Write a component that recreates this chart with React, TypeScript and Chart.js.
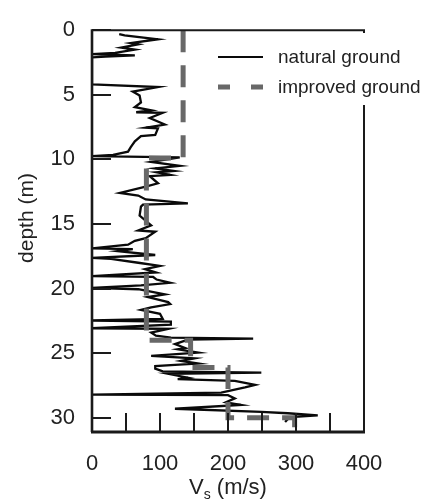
import React, { useEffect, useRef } from "react";
import { Chart, registerables } from "chart.js";

Chart.register(...registerables);

// natural ground shear-wave velocity profile
const naturalDepth = [
  0.3, 0.4, 0.7, 1.0, 1.1, 1.35, 1.5, 1.75, 1.85, 1.95, 2.05, 2.1, 4.2, 4.4, 4.75, 5.05, 5.6, 5.95,
  6.2, 6.35, 6.4, 6.8, 7.3, 7.55, 7.6, 8.1, 8.2, 8.6, 9.05, 9.4, 9.65, 9.75, 9.85, 10.2, 10.5, 10.7,
  10.9, 11.0, 11.2, 11.3, 11.85, 12.1, 12.6, 12.8, 13.1, 13.4, 13.5, 13.65, 14.35, 15.1, 15.5, 15.6,
  16.1, 16.3, 16.6, 16.88, 16.95, 17.1, 17.4, 17.63, 17.7, 18.0, 18.25, 18.5, 18.75, 19.04, 19.1,
  19.3, 19.55, 19.75, 19.95, 20.05, 20.45, 20.65, 21.05, 21.2, 21.45, 21.65, 21.95, 22.35, 22.47,
  22.55, 22.8, 23.07, 23.12, 23.4, 23.65, 23.8, 23.88, 23.95, 24.3, 24.6, 24.7, 24.95, 25.2, 25.4,
  25.6, 25.8, 25.9, 26.0, 26.2, 26.4, 26.5, 26.6, 26.9, 27.0, 27.15, 27.45, 27.65, 28.05, 28.2,
  28.25, 28.5, 28.8, 29.0, 29.3, 29.55, 29.65, 29.82, 29.92, 30.1, 30.33
];
const naturalVs = [
  40, 48, 97, 57, 68, 43, 63, 34, 0, 63, 20, 0, 0, 97, 60, 70, 72, 63,
  87, 65, 104, 85, 107, 79, 97, 93, 72, 63, 57, 53, 31, 0, 129, 87, 129, 93,
  120, 95, 115, 85, 97, 79, 41, 68, 79, 141, 75, 72, 70, 87, 68, 93,
  79, 63, 53, 0, 60, 38, 93, 0, 28, 68, 100, 78, 94, 0, 90,
  95, 115, 72, 0, 68, 107, 82, 112, 115, 87, 72, 100, 104, 0,
  116, 116, 0, 112, 87, 94, 116, 237, 141, 122, 137, 126, 156, 87, 151,
  131, 156, 122, 93, 93, 104, 249, 112, 141, 126, 210, 240, 225, 190, 0,
  200, 210, 197, 219, 122, 249, 288, 332, 298, 288, 284
];

// improved ground profile
const improvedDepth = [0, 9.9, 9.9, 24.0, 24.0, 26.1, 26.1, 30.0, 30.0, 31.1];
const improvedVs = [134, 134, 80, 80, 145, 145, 200, 200, 298, 298];

const seriesLabels = ["natural ground", "improved ground"];
const xTickValues = [0, 100, 200, 300, 400];
const xInnerTicks = [0, 50, 100, 150, 200, 250, 300, 350, 400];
const yTickValues = [0, 5, 10, 15, 20, 25, 30];
const xTitleMain = "V";
const xTitleSub = "s";
const xTitleRest = " (m/s)";
const yTitle = "depth (m)";

const FONT = "'Liberation Sans', Arial, sans-serif";

const framePlugin = {
  id: "frame",
  afterDatasetsDraw(chart: any) {
    const { ctx, chartArea, scales } = chart;
    const { left, right, top, bottom } = chartArea;
    const xs = scales.x;
    const ys = scales.y;
    ctx.save();
    ctx.strokeStyle = "#1a1a1a";
    ctx.lineCap = "butt";
    // ticks (inside)
    ctx.lineWidth = 2;
    for (const v of yTickValues) {
      const y = Math.round(ys.getPixelForValue(v));
      ctx.beginPath();
      ctx.moveTo(left, y);
      ctx.lineTo(left + 19, y);
      ctx.stroke();
    }
    for (const v of xInnerTicks) {
      const x = Math.round(xs.getPixelForValue(v));
      ctx.beginPath();
      ctx.moveTo(x, bottom);
      ctx.lineTo(x, bottom - 19);
      ctx.stroke();
    }
    // frame
    ctx.lineWidth = 2;
    ctx.beginPath();
    ctx.moveTo(left, top);
    ctx.lineTo(right, top);
    ctx.lineTo(right, bottom);
    ctx.stroke();
    ctx.lineWidth = 2.6;
    ctx.beginPath();
    ctx.moveTo(left, top - 1);
    ctx.lineTo(left, bottom);
    ctx.stroke();
    ctx.lineWidth = 3;
    ctx.beginPath();
    ctx.moveTo(left - 1, bottom);
    ctx.lineTo(right + 1, bottom);
    ctx.stroke();

    // legend box
    ctx.fillStyle = "#ffffff";
    ctx.fillRect(205, 33, 216, 72);
    const ds = chart.data.datasets;
    const rows = [57, 87];
    for (let i = 0; i < 2; i++) {
      const d = ds.find((s: any) => s.label === seriesLabels[i]);
      const y = rows[i];
      ctx.strokeStyle = d.borderColor;
      ctx.lineWidth = i === 1 ? d.borderWidth : 2;
      ctx.setLineDash(i === 1 ? [12, 21] : []);
      ctx.beginPath();
      ctx.moveTo(218, y);
      ctx.lineTo(263, y);
      ctx.stroke();
      ctx.setLineDash([]);
      ctx.fillStyle = "#222";
      ctx.font = `19px ${FONT}`;
      ctx.textAlign = "left";
      ctx.textBaseline = "middle";
      ctx.fillText(seriesLabels[i], 278, y + 1);
    }

    // axis titles
    ctx.fillStyle = "#222";
    ctx.font = `21px ${FONT}`;
    ctx.textBaseline = "middle";
    ctx.textAlign = "center";
    ctx.save();
    ctx.translate(27, 218);
    ctx.rotate(-Math.PI / 2);
    ctx.fillText(yTitle, 0, 0);
    ctx.restore();

    const mainFont = `22px ${FONT}`;
    const subFont = `14px ${FONT}`;
    ctx.font = mainFont;
    const wMain = ctx.measureText(xTitleMain).width;
    const wRest = ctx.measureText(xTitleRest).width;
    ctx.font = subFont;
    const wSub = ctx.measureText(xTitleSub).width;
    const total = wMain + wSub + wRest;
    const cx = (left + right) / 2;
    let x = cx - total / 2;
    const ty = 488;
    ctx.textAlign = "left";
    ctx.font = mainFont;
    ctx.fillText(xTitleMain, x, ty);
    x += wMain;
    ctx.font = subFont;
    ctx.fillText(xTitleSub, x, ty + 7);
    x += wSub;
    ctx.font = mainFont;
    ctx.fillText(xTitleRest, x, ty);
    ctx.restore();
  },
};

export default function App() {
  const ref = useRef<HTMLCanvasElement | null>(null);
  useEffect(() => {
    if (!ref.current) return;
    const natural = naturalDepth.map((d, i) => ({ x: naturalVs[i], y: d }));
    const improved = improvedDepth.map((d, i) => ({ x: improvedVs[i], y: d }));
    const chart = new Chart(ref.current, {
      type: "scatter",
      data: {
        datasets: [
          {
            label: seriesLabels[0],
            data: natural,
            showLine: true,
            borderColor: "#0a0a0a",
            backgroundColor: "#0a0a0a",
            borderWidth: 2.3,
            pointRadius: 0,
            order: 1,
          },
          {
            label: seriesLabels[1],
            data: improved,
            showLine: true,
            borderColor: "#686868",
            backgroundColor: "#686868",
            borderWidth: 5,
            borderDash: [22, 13],
            pointRadius: 0,
            order: 0,
          },
        ],
      },
      options: {
        responsive: false,
        animation: false,
        events: [],
        layout: { padding: { top: 23, right: 57, left: 0, bottom: 0 } },
        plugins: { legend: { display: false }, tooltip: { enabled: false }, title: { display: false } },
        scales: {
          x: {
            type: "linear",
            min: 0,
            max: 400,
            grid: { display: false, drawTicks: false },
            border: { display: false },
            afterBuildTicks: (s: any) => {
              s.ticks = xTickValues.map((v) => ({ value: v }));
            },
            afterFit: (s: any) => {
              s.height = 69;
            },
            ticks: {
              padding: 19,
              color: "#222",
              font: { family: FONT, size: 22 },
              maxRotation: 0,
              autoSkip: false,
            },
          },
          y: {
            type: "linear",
            min: 0,
            max: 31.1,
            reverse: true,
            grid: { display: false, drawTicks: false },
            border: { display: false },
            afterBuildTicks: (s: any) => {
              s.ticks = yTickValues.map((v) => ({ value: v }));
            },
            afterFit: (s: any) => {
              s.width = 92;
            },
            ticks: {
              padding: 17,
              color: "#222",
              font: { family: FONT, size: 22 },
              autoSkip: false,
            },
          },
        },
      },
      plugins: [framePlugin],
    });
    return () => chart.destroy();
  }, []);
  return (
    <div style={{ position: "absolute", left: 0, top: 0, width: 421, height: 501, background: "#fff" }}>
      <canvas ref={ref} width={421} height={501} style={{ display: "block" }} />
    </div>
  );
}
